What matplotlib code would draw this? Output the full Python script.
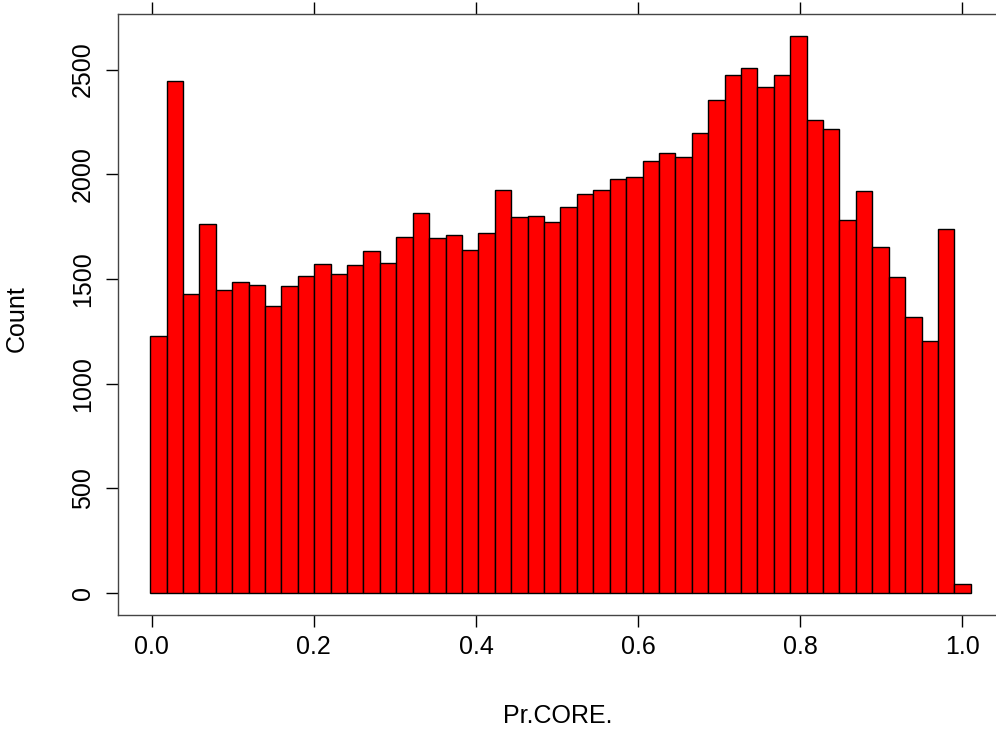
import matplotlib
matplotlib.use('Agg')
import matplotlib.pyplot as plt
import numpy as np

plt.rcParams['font.family'] = ['Liberation Sans', 'DejaVu Sans']

# histogram of Pr.CORE., 50 bins
counts = [1229, 2447, 1428, 1763, 1447, 1484, 1471, 1372, 1467, 1516,
          1572, 1522, 1565, 1634, 1578, 1702, 1815, 1696, 1709, 1640,
          1721, 1927, 1796, 1801, 1771, 1845, 1907, 1925, 1976, 1989,
          2063, 2100, 2081, 2199, 2355, 2473, 2509, 2417, 2473, 2659,
          2261, 2218, 1782, 1919, 1653, 1511, 1317, 1205, 1739, 45]
x_range = [-0.002, 1.0105]
x_ticks = [0.0, 0.2, 0.4, 0.6, 0.8, 1.0]
x_ticklabels = ['0.0', '0.2', '0.4', '0.6', '0.8', '1.0']
y_ticks = [0, 500, 1000, 1500, 2000, 2500]
y_ticklabels = ['0', '500', '1000', '1500', '2000', '2500']

edges = np.linspace(x_range[0], x_range[1], len(counts) + 1)
widths = np.diff(edges)

fig = plt.figure(figsize=(9.96, 7.3), dpi=100)
ax = fig.add_axes([118/996, 115/730, 878/996, 601/730])

ax.bar(edges[:-1], counts, width=widths, align='edge',
       color='#ff0000', edgecolor='black', linewidth=1.0)

ax.set_xlim(-0.0416, 1.0416)
ax.set_ylim(-104.6, 2765.5)

ax.set_xticks(x_ticks)
ax.set_xticklabels(x_ticklabels)
ax.set_yticks(y_ticks)
ax.set_yticklabels(y_ticklabels, rotation=90, va='center')

ax.tick_params(axis='x', direction='out', length=8.5, width=1, pad=6,
               labelsize=18, top=True, labeltop=False)
ax.tick_params(axis='y', direction='out', length=8.5, width=1, pad=8,
               labelsize=18, right=False)

for side in ['left', 'top', 'bottom']:
    ax.spines[side].set_color('#444444')
    ax.spines[side].set_linewidth(1.0)
ax.spines['right'].set_visible(False)

fig.text(558/996, 1 - 716/730, 'Pr.CORE.', ha='center', va='center', fontsize=18)
fig.text(17/996, 1 - 319/730, 'Count', ha='center', va='center',
         rotation=90, fontsize=18)

fig.savefig('out.png', dpi=100)
